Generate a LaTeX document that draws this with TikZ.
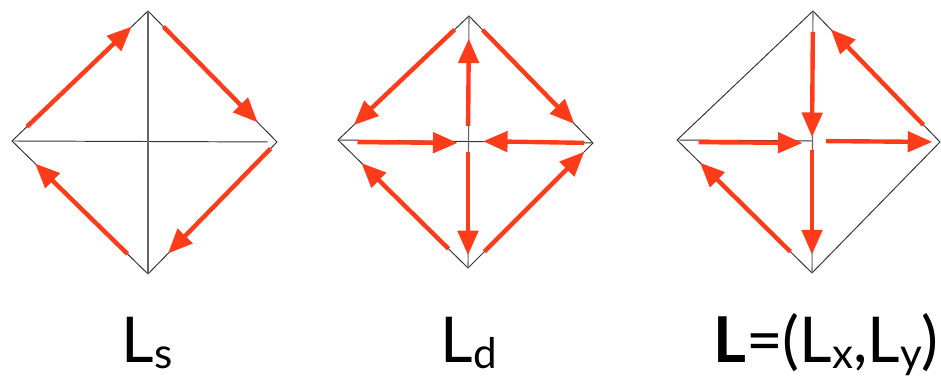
\documentclass[tikz,border=0pt]{standalone}
\usepackage{fontspec}
\setmainfont{Lato}
\usetikzlibrary{arrows.meta,calc}
\definecolor{arrowred}{RGB}{255,60,25}
\newcommand\lowsub[1]{\raisebox{-0.09em}{\fontsize{24}{24}\selectfont #1}}

\begin{document}
\begin{tikzpicture}[
  x=0.02cm, y=-0.02cm,
  frame/.style={draw=black!80, line width=0.55pt},
  axis/.style={draw=black!60, line width=0.6pt},
  flow/.style={-{Triangle[length=14pt, width=11.5pt]}, draw=arrowred,
    line width=2.5pt},
  lbl/.style={anchor=base, inner sep=0pt, font=\fontsize{36}{40}\selectfont}
]
\useasboundingbox (0,0) rectangle (941,377);
% spin diamond
\coordinate (s-t) at (148,11);
\coordinate (s-l) at (12,141);
\coordinate (s-r) at (277,142);
\coordinate (s-b) at (148,274);
\coordinate (s-c) at (148,141);
\draw[frame] (s-t) -- (s-r) -- (s-b) -- (s-l) -- cycle;
\draw[frame] (s-l) -- ($(s-l)!0.965!(s-r)$);
\draw[axis] (s-t) -- (s-b);
\draw[flow] ($(s-l)!0.11!(s-t)$) -- ($(s-l)!0.88!(s-t)$);
\draw[flow] ($(s-t)!0.12!(s-r)$) -- ($(s-t)!0.85!(s-r)$);
\draw[flow] ($(s-r)!0.05!(s-b)$) -- ($(s-r)!0.845!(s-b)$);
\draw[flow] ($(s-b)!0.15!(s-l)$) -- ($(s-b)!0.83!(s-l)$);
% divergence diamond
\coordinate (d-t) at (469,16);
\coordinate (d-l) at (338,140);
\coordinate (d-r) at (593,143);
\coordinate (d-b) at (468,268);
\coordinate (d-c) at (468,141);
\draw[frame] (d-t) -- (d-r) -- (d-b) -- (d-l) -- cycle;
\draw[frame] (d-l) -- (d-r);
\draw[axis] (d-t) -- (d-b);
\draw[flow] ($(d-t)!0.11!(d-l)$) -- ($(d-t)!0.88!(d-l)$);
\draw[flow] ($(d-t)!0.11!(d-r)$) -- ($(d-t)!0.85!(d-r)$);
\draw[flow] ($(d-c)!0.12!(d-t)$) -- ($(d-c)!0.82!(d-t)$);
\draw[flow] ($(d-c)!0.09!(d-b)$) -- ($(d-c)!0.90!(d-b)$);
\draw[flow] ($(d-l)!0.15!(d-c)+(0,2)$) -- ($(d-l)!0.92!(d-c)+(0,2)$);
\draw[flow] ($(d-r)!0.07!(d-c)$) -- ($(d-r)!0.88!(d-c)$);
\draw[flow] ($(d-b)!0.15!(d-l)$) -- ($(d-b)!0.82!(d-l)$);
\draw[flow] ($(d-b)!0.13!(d-r)$) -- ($(d-b)!0.93!(d-r)$);
% full diamond
\coordinate (f-t) at (813,11);
\coordinate (f-l) at (677,140);
\coordinate (f-r) at (940,142);
\coordinate (f-b) at (812,273);
\coordinate (f-c) at (812,141);
\draw[frame] (f-t) -- (f-r) -- (f-b) -- (f-l) -- cycle;
\draw[frame] (f-l) -- (f-c);
\draw[axis] (f-t) -- (f-b);
\draw[flow] ($(f-t)!0.16!(f-c)$) -- ($(f-t)!0.97!(f-c)$);
\draw[flow] ($(f-c)!0.07!(f-b)$) -- ($(f-c)!0.86!(f-b)$);
\draw[flow] ($(f-l)!0.16!(f-c)+(0,2)$) -- ($(f-l)!0.93!(f-c)+(0,2)$);
\draw[flow] ($(f-c)!0.11!(f-r)$) -- ($(f-c)!0.94!(f-r)$);
\draw[flow] ($(f-r)!0.13!(f-t)$) -- ($(f-r)!0.86!(f-t)$);
\draw[flow] ($(f-b)!0.16!(f-l)$) -- ($(f-b)!0.83!(f-l)$);
% labels
\node[lbl] (lblS) at (147,363) {L\lowsub{s}};
\node[lbl] (lblD) at (469,363) {L\lowsub{d}};
\node[lbl] (lblL) at (826,363) {\textbf{L}=(L\lowsub{x},L\lowsub{y})};
\end{tikzpicture}
\end{document}
